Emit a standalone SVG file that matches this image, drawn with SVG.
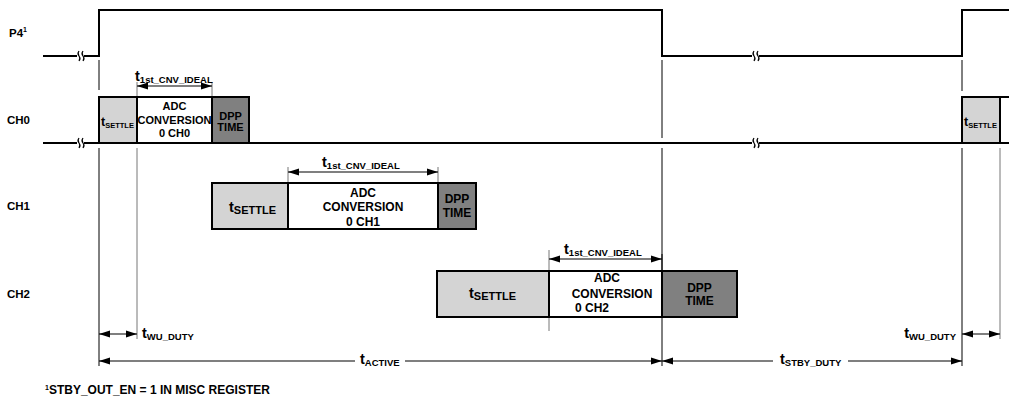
<svg xmlns="http://www.w3.org/2000/svg" width="1009" height="400" viewBox="0 0 1009 400">
<style>
text{font-family:"Liberation Sans",Arial,sans-serif;font-weight:bold;fill:#000}
.sig{fill:none;stroke:#000;stroke-width:2}
.box{stroke:#000;stroke-width:2}
.settle{fill:#d4d4d4}
.adc{fill:#fff}
.dpp{fill:#808080}
.ref{stroke:#000;stroke-width:1;fill:none}
.tick{stroke:#777;stroke-width:1;fill:none}
.dim{stroke:#000;stroke-width:1.2;fill:none}
.brk{fill:none;stroke:#000;stroke-width:1.2}
.lbl{font-size:11.5px}
.c11{font-size:11px;text-anchor:middle}
.c12{font-size:12px;text-anchor:middle}
.t{font-size:14.5px}
.s{font-size:9.5px}
</style>
<defs>
<marker id="ah" markerUnits="userSpaceOnUse" markerWidth="11" markerHeight="8" refX="11" refY="4" orient="auto-start-reverse">
<path d="M0,0.5 L11,4 L0,7.5 z" fill="#000"/>
</marker>
</defs>
<rect width="1009" height="400" fill="#fff"/>

<g id="labels">
<text class="lbl" x="9" y="37">P4<tspan font-size="7px" dy="-5">1</tspan></text>
<text class="lbl" x="7" y="124">CH0</text>
<text class="lbl" x="7" y="210">CH1</text>
<text class="lbl" x="7" y="298">CH2</text>
</g>

<g id="p4-signal">
<path class="sig" d="M43,56 H99 V10 H662 V56 H962 V10 H1009"/>
<rect x="77" y="50" width="7" height="12" fill="#fff"/>
<path class="brk" d="M79,51 q-2,2.5 0,5 q2,2.5 0,5 M83,51 q-2,2.5 0,5 q2,2.5 0,5"/>
<rect x="752" y="50" width="7" height="12" fill="#fff"/>
<path class="brk" d="M754,51 q-2,2.5 0,5 q2,2.5 0,5 M758,51 q-2,2.5 0,5 q2,2.5 0,5"/>
</g>

<g id="ch0-signal">
<path class="sig" d="M43,143 H1009"/>
<rect x="77" y="137" width="7" height="12" fill="#fff"/>
<path class="brk" d="M79,138 q-2,2.5 0,5 q2,2.5 0,5 M83,138 q-2,2.5 0,5 q2,2.5 0,5"/>
<rect x="752" y="137" width="7" height="12" fill="#fff"/>
<path class="brk" d="M754,138 q-2,2.5 0,5 q2,2.5 0,5 M758,138 q-2,2.5 0,5 q2,2.5 0,5"/>
</g>

<g id="connectors">
<path class="ref" d="M99,60 V90 M99,148 V366 M662,60 V138 M662,148 V366 M962,60 V91 M962,148 V366"/>
<path class="tick" d="M137,82 V97 M137,148 V339 M212,82 V97 M1000,148 V339 M288,167 V183 M438,167 V183 M549,250 V331"/>
<path class="ref" d="M662,254 V271"/>
<line class="dim" x1="137" y1="86" x2="212" y2="86" marker-start="url(#ah)" marker-end="url(#ah)"/>
<line class="dim" x1="288" y1="172" x2="438" y2="172" marker-start="url(#ah)" marker-end="url(#ah)"/>
<line class="dim" x1="549" y1="259" x2="662" y2="259" marker-start="url(#ah)" marker-end="url(#ah)"/>
<line class="dim" x1="99" y1="334" x2="137" y2="334" marker-start="url(#ah)" marker-end="url(#ah)"/>
<line class="dim" x1="962" y1="334" x2="1000" y2="334" marker-start="url(#ah)" marker-end="url(#ah)"/>
<line class="dim" x1="99" y1="361" x2="355" y2="361" marker-start="url(#ah)"/>
<line class="dim" x1="405" y1="361" x2="662" y2="361" marker-end="url(#ah)"/>
<line class="dim" x1="662" y1="361" x2="773" y2="361" marker-start="url(#ah)"/>
<line class="dim" x1="848" y1="361" x2="962" y2="361" marker-end="url(#ah)"/>
</g>

<g id="ch0-settle">
<rect class="box settle" x="99" y="97" width="38" height="46"/>
<text x="101" y="126"><tspan font-size="12.5px">t</tspan><tspan font-size="7.5px" dy="2">SETTLE</tspan></text>
</g>
<g id="ch0-adc">
<rect class="box adc" x="137" y="97" width="75" height="46"/>
<text class="c11" x="174.5" y="110">ADC</text>
<text class="c11" x="174.5" y="124" font-size="10.5px">CONVERSION</text>
<text class="c11" x="174.5" y="137">0 CH0</text>
</g>
<g id="ch0-dpp">
<rect class="box dpp" x="212" y="97" width="37" height="46"/>
<text class="c11" x="230.5" y="120">DPP</text>
<text class="c11" x="230.5" y="131">TIME</text>
</g>
<g id="ch0-settle-next">
<rect class="box settle" x="962" y="97" width="38" height="46"/>
<text x="964" y="126"><tspan font-size="12.5px">t</tspan><tspan font-size="7.5px" dy="2">SETTLE</tspan></text>
</g>
<g id="ch0-adc-next">
<rect class="box adc" x="1000" y="97" width="20" height="46"/>
</g>

<g id="ch1-settle">
<rect class="box settle" x="212" y="183" width="76" height="46"/>
<text x="229" y="212"><tspan class="t">t</tspan><tspan font-size="11px" dy="2">SETTLE</tspan></text>
</g>
<g id="ch1-adc">
<rect class="box adc" x="288" y="183" width="150" height="46"/>
<text class="c12" x="363" y="197">ADC</text>
<text class="c12" x="363" y="211">CONVERSION</text>
<text class="c12" x="363" y="226">0 CH1</text>
</g>
<g id="ch1-dpp">
<rect class="box dpp" x="438" y="183" width="38" height="46"/>
<text class="c12" x="457" y="203">DPP</text>
<text class="c12" x="457" y="217">TIME</text>
</g>

<g id="ch2-settle">
<rect class="box settle" x="437" y="271" width="112" height="46"/>
<text x="469" y="298"><tspan class="t">t</tspan><tspan font-size="11px" dy="2">SETTLE</tspan></text>
</g>
<g id="ch2-adc">
<rect class="box adc" x="549" y="271" width="113" height="46"/>
<text class="c12" x="607" y="282">ADC</text>
<text class="c12" x="612" y="298">CONVERSION</text>
<text font-size="12px" x="575" y="312">0 CH2</text>
</g>
<g id="ch2-dpp">
<rect class="box dpp" x="662" y="271" width="75" height="46"/>
<text class="c12" x="699.5" y="292">DPP</text>
<text class="c12" x="699.5" y="305">TIME</text>
</g>

<g id="dimension-labels">
<text x="135" y="81"><tspan class="t">t</tspan><tspan class="s" dy="2">1st_CNV_IDEAL</tspan></text>
<text x="322" y="167"><tspan class="t">t</tspan><tspan class="s" dy="2">1st_CNV_IDEAL</tspan></text>
<text x="564" y="254"><tspan class="t">t</tspan><tspan class="s" dy="2">1st_CNV_IDEAL</tspan></text>
<text x="142" y="338"><tspan class="t">t</tspan><tspan class="s" dy="2">WU_DUTY</tspan></text>
<text x="956" y="338" text-anchor="end"><tspan class="t">t</tspan><tspan class="s" dy="2">WU_DUTY</tspan></text>
<text x="360" y="364"><tspan class="t">t</tspan><tspan class="s" dy="2">ACTIVE</tspan></text>
<text x="780" y="364"><tspan class="t">t</tspan><tspan class="s" dy="2">STBY_DUTY</tspan></text>
</g>

<g id="footnote">
<text x="45" y="394" font-size="12px"><tspan font-size="7px" dy="-4">1</tspan><tspan dy="4">STBY_OUT_EN = 1 IN MISC REGISTER</tspan></text>
</g>
</svg>
